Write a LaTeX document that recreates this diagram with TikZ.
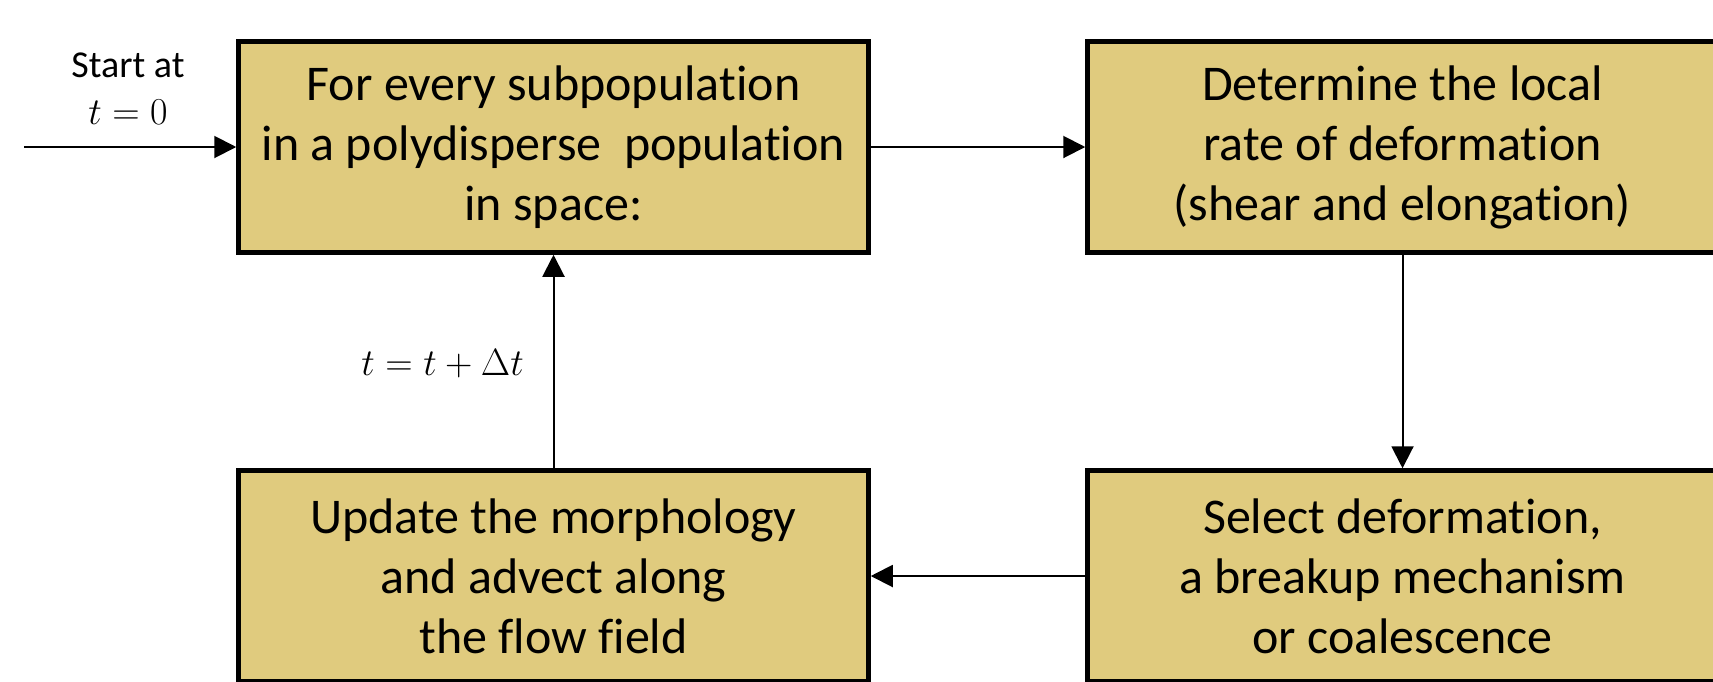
\documentclass[tikz,border=0pt]{standalone}
\usepackage{fix-cm}
\usepackage{fontspec}
\setmainfont[Ligatures=NoCommon]{Carlito}
\usetikzlibrary{arrows.meta}
\definecolor{boxfill}{RGB}{224,203,126}
\tikzset{
  procbox/.style={draw=black, line width=4.5pt, fill=boxfill, minimum width=630pt, minimum height=211pt,
    align=center, inner sep=0pt, font=\fontsize{50}{60}\selectfont},
  arr/.style={line width=2pt, -{Triangle[length=22pt,width=22pt]}},
  lbl/.style={font=\fontsize{38}{47}\selectfont, align=center, inner sep=0pt}
}
\begin{document}
\begin{tikzpicture}[x=1pt,y=-1pt]
\useasboundingbox (0,0) rectangle (1713,681);
\clip (0,0) rectangle (1713,681);
\node[procbox] (b1) at (553.5,147) {For every subpopulation\\in a polydisperse\ \ population\\in space:};
\node[procbox] (b2) at (1402.5,147) {Determine the local\\rate of deformation\\(shear and elongation)};
\node[procbox] (b4) at (1402.5,576) {Select deformation,\\a breakup mechanism\\or coalescence};
\node[procbox] (b3) at (553.5,576) {Update the morphology\\and advect along\\the flow field};
\coordinate (s) at (24,147);
\node[lbl] (st) at (128,89) {Start at\\$t = 0$};
\node[lbl, anchor=east] (dt) at (524,364) {$t = t + \Delta t$};
\draw[arr] (s) -- (b1.west);
\draw[arr] (b1.east) -- (b2.west);
\draw[arr] (b2.south) -- (b4.north);
\draw[arr] (b4.west) -- (b3.east);
\draw[arr] (b3.north) -- (b1.south);
\end{tikzpicture}
\end{document}
